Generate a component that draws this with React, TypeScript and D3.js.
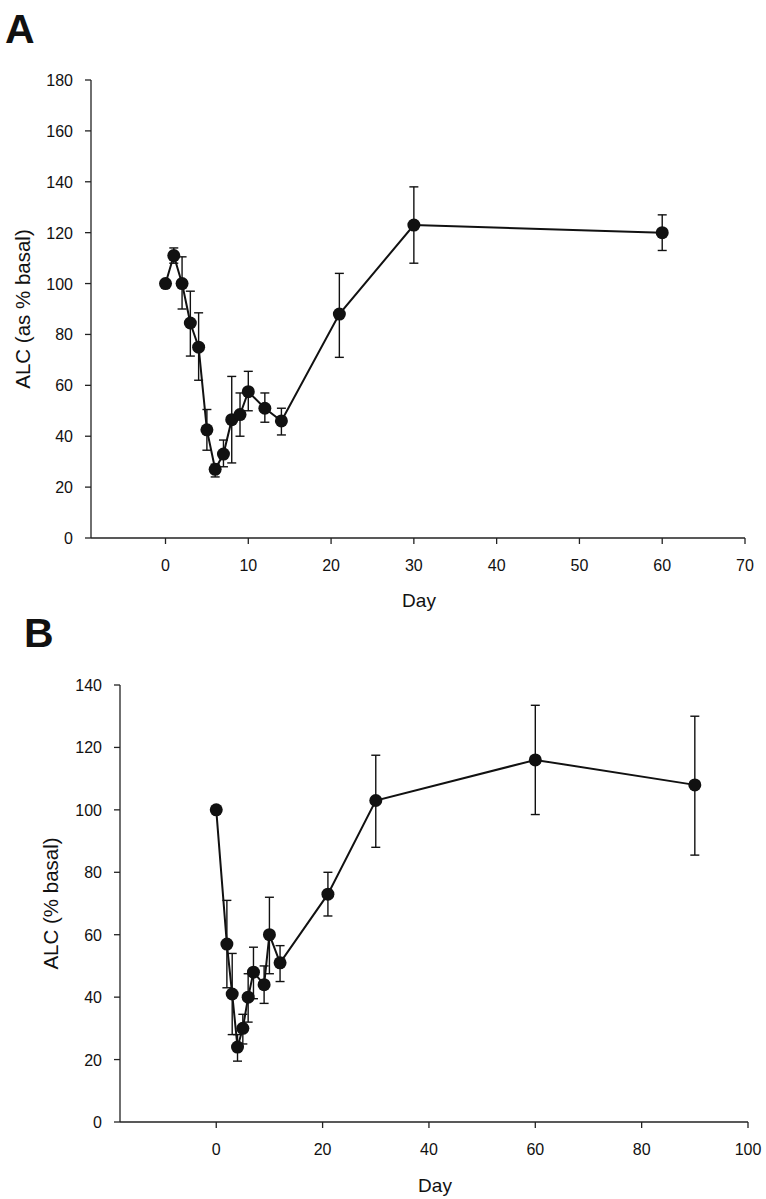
import React from "react";
import * as d3 from "d3";

const daysA = [0, 1, 2, 3, 4, 5, 6, 7, 8, 9, 10, 12, 14, 21, 30, 60];
const alcA = [100, 111, 100, 84.5, 75, 42.5, 27, 33, 46.5, 48.5, 57.5, 51, 46, 88, 123, 120];
const loA = [100, 108, 90, 71.5, 62, 34.5, 24, 28, 29.5, 40, 50, 45.5, 40.5, 71, 108, 113];
const hiA = [100, 114, 110.5, 97, 88.5, 50.5, 29, 38.5, 63.5, 57, 65.5, 57, 51, 104, 138, 127];
const yTicksA = [0, 20, 40, 60, 80, 100, 120, 140, 160, 180];
const xTicksA = [0, 10, 20, 30, 40, 50, 60, 70];

const daysB = [0, 2, 3, 4, 5, 6, 7, 9, 10, 12, 21, 30, 60, 90];
const alcB = [100, 57, 41, 24, 30, 40, 48, 44, 60, 51, 73, 103, 116, 108];
const loB = [100, 43, 28, 19.5, 25, 32, 39.5, 38, 47.5, 45, 66, 88, 98.5, 85.5];
const hiB = [100, 71, 54, 28, 34.5, 47.5, 56, 50, 72, 56.5, 80, 117.5, 133.5, 130];
const yTicksB = [0, 20, 40, 60, 80, 100, 120, 140];
const xTicksB = [0, 20, 40, 60, 80, 100];

type PanelProps = {
  letter: string;
  letterX: number;
  letterY: number;
  days: number[];
  vals: number[];
  lo: number[];
  hi: number[];
  xDomain: [number, number];
  yDomain: [number, number];
  xRange: [number, number];
  yRange: [number, number];
  xTicks: number[];
  yTicks: number[];
  yTitle: string;
  yTitleX: number;
  dayX: number;
  dayY: number;
};

function Panel(p: PanelProps) {
  const x = d3.scaleLinear().domain(p.xDomain).range(p.xRange);
  const y = d3.scaleLinear().domain(p.yDomain).range(p.yRange);
  const pts = p.days.map((d, i) => [x(d), y(p.vals[i])] as [number, number]);
  const line = d3.line()(pts) || "";
  const x0 = p.xRange[0];
  const y0 = p.yRange[0];
  const font = "Liberation Sans, Arial, sans-serif";
  const yMid = (p.yRange[0] + p.yRange[1]) / 2;
  return (
    <g fontFamily={font} fill="#111">
      <text x={p.letterX} y={p.letterY} fontSize={41} fontWeight="bold">{p.letter}</text>
      <line x1={x0} x2={x0} y1={y0} y2={p.yRange[1]} stroke="#222" strokeWidth={1.3} />
      <line x1={x0} x2={p.xRange[1]} y1={y0} y2={y0} stroke="#222" strokeWidth={1.3} />
      {p.yTicks.map((t) => (
        <g key={"y" + t}>
          <line x1={x0 - 6} x2={x0} y1={y(t)} y2={y(t)} stroke="#222" strokeWidth={1.3} />
          <text x={x0 - 18} y={y(t) + 6} fontSize={16} textAnchor="end">{t}</text>
        </g>
      ))}
      {p.xTicks.map((t) => (
        <g key={"x" + t}>
          <line x1={x(t)} x2={x(t)} y1={y0} y2={y0 + 6} stroke="#222" strokeWidth={1.3} />
          <text x={x(t)} y={y0 + 33} fontSize={16} textAnchor="middle">{t}</text>
        </g>
      ))}
      <text x={p.dayX} y={p.dayY} fontSize={19} textAnchor="middle">Day</text>
      <text
        transform={`translate(${p.yTitleX},${yMid}) rotate(-90)`}
        fontSize={20.5}
        textAnchor="middle"
      >
        {p.yTitle}
      </text>
      {p.days.map((d, i) =>
        p.hi[i] - p.lo[i] > 0.5 ? (
          <g key={"e" + i} stroke="#111" strokeWidth={1.4}>
            <line x1={x(d)} x2={x(d)} y1={y(p.lo[i])} y2={y(p.hi[i])} />
            <line x1={x(d) - 4.5} x2={x(d) + 4.5} y1={y(p.lo[i])} y2={y(p.lo[i])} />
            <line x1={x(d) - 4.5} x2={x(d) + 4.5} y1={y(p.hi[i])} y2={y(p.hi[i])} />
          </g>
        ) : null
      )}
      <path d={line} fill="none" stroke="#111" strokeWidth={2} />
      {pts.map(([cx, cy], i) => (
        <circle key={"c" + i} cx={cx} cy={cy} r={6.5} fill="#111" />
      ))}
    </g>
  );
}

export default function App() {
  return (
    <svg width={766} height={1199} style={{ display: "block", position: "absolute", left: 0, top: 0 }}>
      <rect width={766} height={1199} fill="#fff" />
      <Panel
        letter="A"
        letterX={5}
        letterY={43}
        days={daysA}
        vals={alcA}
        lo={loA}
        hi={hiA}
        xDomain={[-9, 70]}
        yDomain={[0, 180]}
        xRange={[91, 745]}
        yRange={[538, 80]}
        xTicks={xTicksA}
        yTicks={yTicksA}
        yTitle="ALC (as % basal)"
        yTitleX={30}
        dayX={419}
        dayY={607}
      />
      <Panel
        letter="B"
        letterX={24}
        letterY={647}
        days={daysB}
        vals={alcB}
        lo={loB}
        hi={hiB}
        xDomain={[-18.1, 100]}
        yDomain={[0, 140]}
        xRange={[120, 748]}
        yRange={[1122, 685]}
        xTicks={xTicksB}
        yTicks={yTicksB}
        yTitle="ALC (% basal)"
        yTitleX={58}
        dayX={435}
        dayY={1192}
      />
    </svg>
  );
}
